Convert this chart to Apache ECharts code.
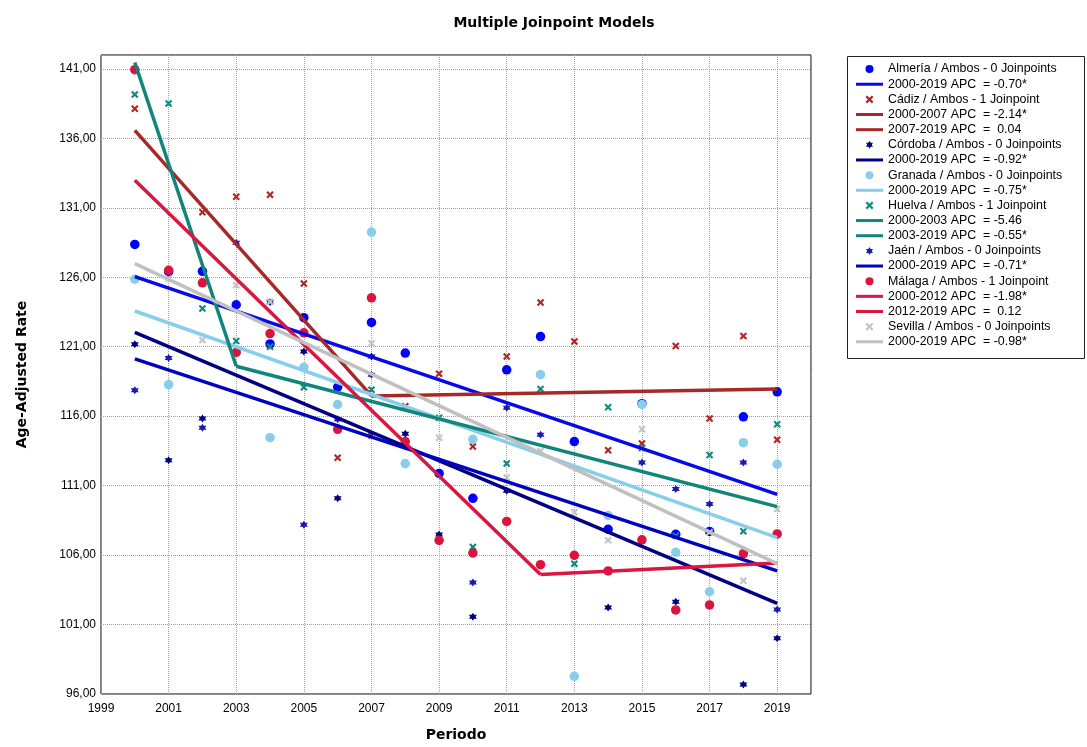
<!DOCTYPE html>
<html>
<head>
<meta charset="utf-8">
<script src="https://cdn.jsdelivr.net/npm/echarts@6/dist/echarts.min.js"></script>
<style>
  html, body { margin: 0; padding: 0; background: #ffffff; }
  #chart { width: 1087px; height: 747px; }
</style>
</head>
<body>
<div id="chart"></div>
<script>
// Observed years
const years = [2000, 2001, 2002, 2003, 2004, 2005, 2006, 2007, 2008, 2009,
               2010, 2011, 2012, 2013, 2014, 2015, 2016, 2017, 2018, 2019];

// Age-adjusted rates per province (null = not shown)
const almeria = [128.36, 126.4, 126.43, 124.02, 121.2, 123.09, 118.1, 122.75, 120.54, 111.88,
                 110.09, 119.34, 121.73, 114.17, 107.86, 116.9, 107.5, 107.7, 115.95, 117.75];
const cadiz   = [138.13, null, 130.68, 131.8, 131.94, 125.55, 113.0, 114.6, 116.72, 119.06,
                 113.81, 120.3, 124.19, 121.38, 113.55, 114.03, 121.06, 115.83, 121.78, 114.3];
const cordoba = [121.18, 112.83, 115.84, null, null, 120.66, 110.09, 120.3, 114.74, 107.49,
                 101.57, 110.64, null, null, 102.23, null, 102.64, 107.65, 96.68, 100.02];
const granada = [125.86, 118.27, null, null, 114.45, 119.52, 116.84, 129.25, 112.59, null,
                 114.33, null, 118.99, 97.27, 108.85, 116.84, 106.2, 103.36, 114.09, 112.54];
const huelva  = [139.15, 138.5, 123.76, 121.42, 121.0, 118.08, null, 117.91, null, 115.88,
                 106.58, 112.59, 117.96, 105.38, 116.65, 113.7, 107.4, 113.21, 107.72, 115.41];
const jaen    = [117.87, 120.18, 115.17, 128.48, 124.2, 108.18, 115.77, 118.99, null, null,
                 104.03, 116.6, 114.67, null, null, 112.66, 110.75, 109.68, 112.66, 102.09];
const malaga  = [140.94, 126.5, 125.6, 120.6, 121.95, 122.0, 115.05, 124.52, 114.17, 107.06,
                 106.15, 108.42, 105.31, 105.98, 104.86, 107.1, 102.05, 102.41, 106.1, 107.52];
const sevilla = [null, 125.9, 121.49, 125.43, 124.23, null, null, 121.25, null, 114.45,
                 null, 111.59, 113.5, 109.08, 107.06, 115.05, null, 107.65, 104.15, 109.32];

// Joinpoint fitted segments: [startYear, startValue, endYear, endValue]
const almeriaFit  = [[2000, 126.05, 2019, 110.37]];
const cadizFit    = [[2000, 136.57, 2007, 117.46], [2007, 117.46, 2019, 117.96]];
const cordobaFit  = [[2000, 122.04, 2019, 102.52]];
const granadaFit  = [[2000, 123.57, 2019, 107.25]];
const huelvaFit   = [[2000, 141.46, 2003, 119.59], [2003, 119.59, 2019, 109.49]];
const jaenFit     = [[2000, 120.13, 2019, 104.86]];
const malagaFit   = [[2000, 132.99, 2012, 104.6], [2012, 104.6, 2019, 105.43]];
const sevillaFit  = [[2000, 126.98, 2019, 105.38]];

// Legend labels
const pointLabels = ['Almería / Ambos - 0 Joinpoints', 'Cádiz / Ambos - 1 Joinpoint',
  'Córdoba / Ambos - 0 Joinpoints', 'Granada / Ambos - 0 Joinpoints', 'Huelva / Ambos - 1 Joinpoint',
  'Jaén / Ambos - 0 Joinpoints', 'Málaga / Ambos - 1 Joinpoint', 'Sevilla / Ambos - 0 Joinpoints'];
const segmentLabels = [
  ['2000-2019 APC  = -0.70*'],
  ['2000-2007 APC  = -2.14*', '2007-2019 APC  =  0.04'],
  ['2000-2019 APC  = -0.92*'],
  ['2000-2019 APC  = -0.75*'],
  ['2000-2003 APC  = -5.46', '2003-2019 APC  = -0.55*'],
  ['2000-2019 APC  = -0.71*'],
  ['2000-2012 APC  = -1.98*', '2012-2019 APC  =  0.12'],
  ['2000-2019 APC  = -0.98*']
];

// Y tick labels use a decimal comma
const yTickFormat = v => v.toFixed(2).replace('.', ',');

// Marker shapes
const CIRCLE = 'circle';
const XMARK = 'path://M0,1.6 L1.6,0 L4,2.4 L6.4,0 L8,1.6 L5.6,4 L8,6.4 L6.4,8 L4,5.6 L1.6,8 L0,6.4 L2.4,4 Z';
const STAR6 = 'path://M4,0 L5.155,2 L7.46,2 L6.31,4 L7.46,6 L5.155,6 L4,8 L2.845,6 L0.54,6 L1.69,4 L0.54,2 L2.845,2 Z';
const BAR = 'path://M0,0 H27 V3 H0 Z';

const groups = [
  { values: almeria, fits: almeriaFit, pointColor: '#0000ff', lineColor: '#0808e8', symbol: CIRCLE, size: 9.5 },
  { values: cadiz,   fits: cadizFit,   pointColor: '#b02626', lineColor: '#a82828', symbol: XMARK,  size: 7.5 },
  { values: cordoba, fits: cordobaFit, pointColor: '#000080', lineColor: '#000080', symbol: STAR6,  size: 8 },
  { values: granada, fits: granadaFit, pointColor: '#87ceeb', lineColor: '#87ceeb', symbol: CIRCLE, size: 9.5 },
  { values: huelva,  fits: huelvaFit,  pointColor: '#118a80', lineColor: '#0f857b', symbol: XMARK,  size: 7.5 },
  { values: jaen,    fits: jaenFit,    pointColor: '#1a1ab4', lineColor: '#0000c0', symbol: STAR6,  size: 8 },
  { values: malaga,  fits: malagaFit,  pointColor: '#dc143c', lineColor: '#d81840', symbol: CIRCLE, size: 9.5 },
  { values: sevilla, fits: sevillaFit, pointColor: '#c4c4c4', lineColor: '#c0c0c0', symbol: XMARK,  size: 7.5 }
];

const series = [];
const legendData = [];
groups.forEach((g, i) => {
  series.push({
    name: pointLabels[i],
    type: 'scatter',
    symbol: g.symbol,
    symbolSize: g.size,
    z: 2 + i * 0.01,
    itemStyle: { color: g.pointColor, borderWidth: 0, opacity: 1 },
    data: years.map((y, k) => g.values[k] == null ? null : [y, g.values[k]]).filter(d => d),
    emphasis: { disabled: true }
  });
  legendData.push({ name: pointLabels[i], icon: g.symbol });
  g.fits.forEach((seg, j) => {
    series.push({
      name: segmentLabels[i][j],
      type: 'line',
      symbol: 'none',
      z: 4 + i * 0.01,
      color: g.lineColor,
      lineStyle: { color: g.lineColor, width: 3.5 },
      itemStyle: { color: g.lineColor },
      data: [[seg[0], seg[1]], [seg[2], seg[3]]],
      emphasis: { disabled: true }
    });
    legendData.push({ name: segmentLabels[i][j], icon: BAR });
  });
});

const chart = echarts.init(document.getElementById('chart'), null, { renderer: 'canvas' });
chart.setOption({
  animation: false,
  backgroundColor: '#ffffff',
  title: {
    text: 'Multiple Joinpoint Models',
    left: 549,
    textAlign: 'center',
    top: 11,
    textStyle: { fontFamily: 'DejaVu Sans', fontWeight: 'bold', fontSize: 14, color: '#000' }
  },
  grid: {
    left: 101, right: 276, top: 55, bottom: 49,
    show: true, borderColor: '#000', borderWidth: 1, backgroundColor: 'transparent'
  },
  xAxis: {
    type: 'value',
    min: 1999, max: 2020, interval: 2,
    name: 'Periodo',
    nameLocation: 'middle',
    nameGap: 34,
    nameTextStyle: { fontFamily: 'DejaVu Sans', fontWeight: 'bold', fontSize: 14, color: '#000' },
    axisLine: { show: false },
    axisTick: { show: false },
    axisLabel: { showMaxLabel: false, margin: 9, fontFamily: 'Liberation Sans', fontSize: 12, color: '#000',
                 formatter: v => String(v) },
    splitLine: { show: true, lineStyle: { color: '#a0a0a0', type: 'dotted', width: 1 } }
  },
  yAxis: {
    type: 'value',
    min: 96, max: 142, interval: 5,
    name: 'Age-Adjusted Rate',
    nameLocation: 'middle',
    nameGap: 72,
    nameTextStyle: { fontFamily: 'DejaVu Sans', fontWeight: 'bold', fontSize: 14, color: '#000' },
    axisLine: { show: false },
    axisTick: { show: false },
    axisLabel: { showMaxLabel: false, margin: 5, fontFamily: 'Liberation Sans', fontSize: 12, color: '#000',
                 formatter: yTickFormat },
    splitLine: { show: true, lineStyle: { color: '#a0a0a0', type: 'dotted', width: 1 } }
  },
  legend: {
    orient: 'vertical',
    left: 856,
    top: 61.5,
    padding: 0,
    itemGap: 0,
    itemWidth: 27,
    itemHeight: 8,
    symbolKeepAspect: true,
    selectedMode: false,
    itemStyle: { borderWidth: 0 },
    textStyle: { fontFamily: 'Liberation Sans', fontSize: 12.4, color: '#000', lineHeight: 15.15 },
    data: legendData
  },
  graphic: [{
    type: 'rect',
    shape: { x: 847.5, y: 56.5, width: 237, height: 302 },
    style: { fill: 'none', stroke: '#222', lineWidth: 1 },
    silent: true
  }],
  series: series
});
</script>
</body>
</html>
